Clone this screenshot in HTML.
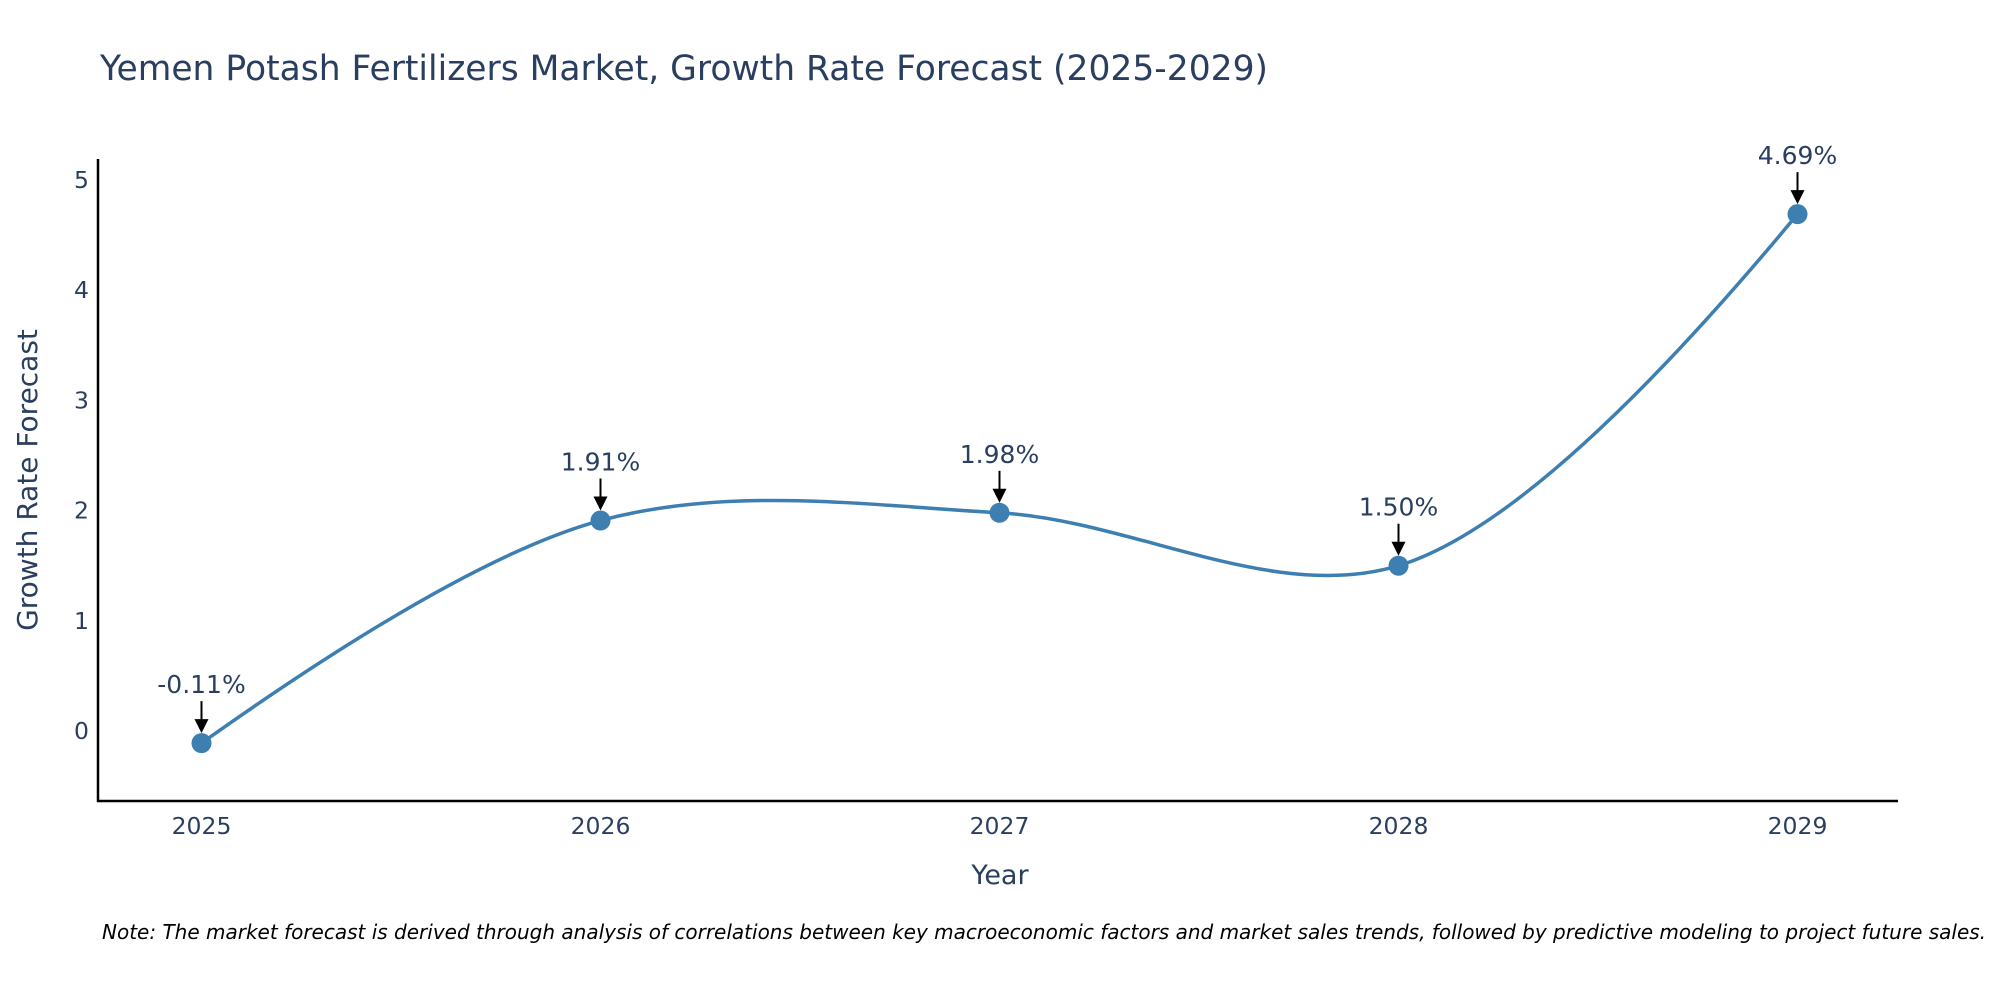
<!DOCTYPE html>
<html><head><meta charset="utf-8"><style>
body{margin:0;background:#fff;}
svg{display:block;font-family:"DejaVu Sans","Liberation Sans",sans-serif;}
</style></head><body>
<svg id="chart" width="2000" height="1000" viewBox="0 0 2000 1000">
<text x="100" y="80" font-size="34.5" fill="#2a3f5f">Yemen Potash Fertilizers Market, Growth Rate Forecast (2025-2029)</text>
<g id="yticks"></g>
<g id="xticks"></g>
<line x1="98" y1="159" x2="98" y2="802" stroke="#000" stroke-width="2.5"/>
<line x1="97" y1="801" x2="1898" y2="801" stroke="#000" stroke-width="2.5"/>
<text transform="translate(37,480) rotate(-90)" text-anchor="middle" font-size="28" fill="#2a3f5f">Growth Rate Forecast</text>
<text x="1000" y="884" text-anchor="middle" font-size="27" fill="#2a3f5f">Year</text>
<g id="series"></g>
<g id="annots"></g>
<text x="102" y="939" font-size="20" font-style="italic" fill="#000">Note: The market forecast is derived through analysis of correlations between key macroeconomic factors and market sales trends, followed by predictive modeling to project future sales.</text>
</svg>
<script>
const years = [2025, 2026, 2027, 2028, 2029];
const growth = [-0.11, 1.91, 1.98, 1.50, 4.69];
const labels = ["-0.11%", "1.91%", "1.98%", "1.50%", "4.69%"];
const yTicks = [0, 1, 2, 3, 4, 5];

const NS = "http://www.w3.org/2000/svg";
const xS = v => 201.5 + (v - 2025) * 399;
const yS = v => 731 - v * 110.2;
function mk(tag, attrs, parent) {
  const e = document.createElementNS(NS, tag);
  for (const k in attrs) e.setAttribute(k, attrs[k]);
  parent.appendChild(e);
  return e;
}
const yt = document.getElementById('yticks');
yTicks.forEach(t => {
  const e = mk('text', {x: 89, y: yS(t) + 8, 'text-anchor': 'end', 'font-size': 23.5, fill: '#2a3f5f'}, yt);
  
  
  e.textContent = t;
});
const xt = document.getElementById('xticks');
years.forEach(y => {
  const e = mk('text', {x: xS(y), y: 834, 'text-anchor': 'middle', 'font-size': 23.5, fill: '#2a3f5f'}, xt);
  
  
  e.textContent = y;
});
const pts = years.map((y, i) => [xS(y), yS(growth[i])]);
const sm = 1.0;
function tan(p, c, n) {
  const d1x = p[0]-c[0], d1y = p[1]-c[1], d2x = n[0]-c[0], d2y = n[1]-c[1];
  const d1a = Math.pow(d1x*d1x+d1y*d1y, 0.25), d2a = Math.pow(d2x*d2x+d2y*d2y, 0.25);
  const nx = (d2a*d2a*d1x - d1a*d1a*d2x)*sm, ny = (d2a*d2a*d1y - d1a*d1a*d2y)*sm;
  const a = 3*d2a*(d1a+d2a), b = 3*d1a*(d1a+d2a);
  return [[c[0]+nx/a, c[1]+ny/a], [c[0]-nx/b, c[1]-ny/b]];
}
const T = [];
for (let i = 1; i < pts.length - 1; i++) T.push(tan(pts[i-1], pts[i], pts[i+1]));
let d = 'M' + pts[0] + 'Q' + T[0][0] + ' ' + pts[1];
for (let i = 2; i < pts.length - 1; i++) d += 'C' + T[i-2][1] + ' ' + T[i-1][0] + ' ' + pts[i];
d += 'Q' + T[pts.length-3][1] + ' ' + pts[pts.length-1];
const sg = document.getElementById('series');
const line = mk('path', {d: d, fill: 'none', stroke: '#3d7fb1', 'stroke-width': 3.5}, sg);


pts.forEach(p => {
  const c = mk('circle', {cx: p[0], cy: p[1], r: 10, fill: '#3d7fb1'}, sg);
  
  
});
const an = document.getElementById('annots');
pts.forEach((p, i) => {
  const l = mk('line', {x1: p[0], y1: p[1]-42, x2: p[0], y2: p[1]-22, stroke: '#000', 'stroke-width': 2}, an);
  
  
  const h = mk('polygon', {points: `${p[0]-7},${p[1]-24} ${p[0]+7},${p[1]-24} ${p[0]},${p[1]-10}`, fill: '#000'}, an);
  
  
  const t = mk('text', {x: p[0], y: p[1]-50, 'text-anchor': 'middle', 'font-size': 25, fill: '#2a3f5f'}, an);
  
  
  t.textContent = labels[i];
});
</script>
</body></html>
